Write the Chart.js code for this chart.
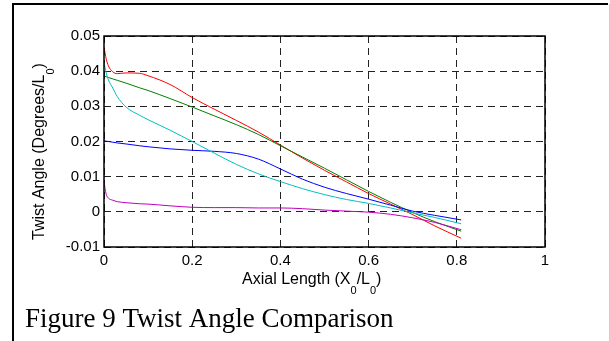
<!DOCTYPE html>
<html>
<head>
<meta charset="utf-8">
<script src="https://cdn.jsdelivr.net/npm/chart.js@4"></script>
<style>
  html, body { margin: 0; padding: 0; background: #fff; }
  #wrap { width: 610px; height: 341px; }
</style>
</head>
<body>
<div id="wrap"><canvas id="myChart" width="610" height="341"></canvas></div>
<script>
// axial positions (X0/L0)
const xs = [0, 0.005, 0.01, 0.02, 0.03, 0.05, 0.08, 0.1, 0.15, 0.2, 0.25, 0.3, 0.35, 0.4, 0.45, 0.5, 0.55, 0.6, 0.65, 0.7, 0.75, 0.81];

// twist angle curves (Degrees/L0)
const redCurve = [0.0468, 0.0435, 0.0415, 0.0398, 0.0393, 0.0395, 0.0394, 0.0387, 0.0362, 0.0325, 0.0292, 0.0260, 0.0227, 0.0190, 0.0153, 0.0118, 0.0085, 0.0052, 0.0022, -0.0008, -0.0040, -0.0075];
const greenCurve = [0.0387, 0.0384, 0.0382, 0.0378, 0.0374, 0.0366, 0.0353, 0.0345, 0.0322, 0.0298, 0.0273, 0.0248, 0.0220, 0.0188, 0.0156, 0.0124, 0.0091, 0.0058, 0.0027, -0.0002, -0.0028, -0.0055];
const cyanCurve = [0.0425, 0.0395, 0.0375, 0.0352, 0.0328, 0.0298, 0.0275, 0.0262, 0.0232, 0.0200, 0.0167, 0.0135, 0.0108, 0.0086, 0.0066, 0.0049, 0.0035, 0.0024, 0.0011, -0.0003, -0.0016, -0.0034];
const blueCurve = [0.0202, 0.0201, 0.0200, 0.0198, 0.0196, 0.0193, 0.0188, 0.0185, 0.0179, 0.0175, 0.0172, 0.0166, 0.0150, 0.0122, 0.0093, 0.0070, 0.0052, 0.0036, 0.0019, 0.0002, -0.0010, -0.0023];
const magentaCurve = [0.0085, 0.0050, 0.0039, 0.0033, 0.0029, 0.0026, 0.0023, 0.0022, 0.0017, 0.0013, 0.0012, 0.0012, 0.0011, 0.0011, 0.0009, 0.0005, 0.0002, -0.0001, -0.0007, -0.0017, -0.0030, -0.0051];

const xTicks = [0, 0.2, 0.4, 0.6, 0.8, 1];
const yTicks = [-0.01, 0, 0.01, 0.02, 0.03, 0.04, 0.05];

const toPoints = (vals) => xs.map((x, i) => ({ x: x, y: vals[i] }));

const line = (label, vals, color) => ({
  label: label,
  data: toPoints(vals),
  borderColor: color,
  borderWidth: 1,
  pointRadius: 0,
  fill: false,
  cubicInterpolationMode: 'monotone'
});

// text with subscripts, parts = [[text, isSub], ...]
function drawSubText(ctx, parts, x, y, size) {
  let cx = x;
  parts.forEach(([t, sub]) => {
    ctx.font = (sub ? 11 : size) + 'px "Liberation Sans", Arial, sans-serif';
    ctx.fillText(t, cx, sub ? y + 10 : y);
    cx += ctx.measureText(t).width;
  });
}

const figurePlugin = {
  id: 'figure',
  beforeDraw(chart) {
    const ctx = chart.ctx;
    ctx.save();
    ctx.fillStyle = '#fff';
    ctx.fillRect(0, 0, chart.width, chart.height);
    // outer frame (cut off at the bottom)
    ctx.strokeStyle = '#000';
    ctx.lineWidth = 2;
    ctx.beginPath();
    ctx.moveTo(13, 341);
    ctx.lineTo(13, 4);
    ctx.lineTo(608, 4);
    ctx.stroke();
    ctx.strokeStyle = '#cfcfcf';
    ctx.lineWidth = 1;
    ctx.beginPath();
    ctx.moveTo(609.5, 4);
    ctx.lineTo(609.5, 341);
    ctx.stroke();
    ctx.restore();
  },
  afterDraw(chart) {
    const ctx = chart.ctx;
    const a = chart.chartArea;
    ctx.save();
    ctx.strokeStyle = '#000';
    ctx.lineWidth = 1.5;
    ctx.setLineDash([]);
    ctx.strokeRect(a.left, a.top, a.right - a.left, a.bottom - a.top);

    ctx.fillStyle = '#000';
    ctx.textBaseline = 'alphabetic';
    ctx.textAlign = 'left';
    drawSubText(ctx, [['Axial Length (X', false], ['0', true], ['/L', false], ['0', true], [')', false]], 242, 284, 16);

    ctx.translate(43.5, 240);
    ctx.rotate(-Math.PI / 2);
    drawSubText(ctx, [['Twist Angle (Degrees/L', false], ['0', true], [')', false]], 0, 0, 16);
    ctx.setTransform(1, 0, 0, 1, 0, 0);

    ctx.font = '27px "Liberation Serif", "Times New Roman", serif';
    ctx.fillText('Figure 9 Twist Angle Comparison', 25, 327);
    ctx.restore();
  }
};

const tickFont = { family: '"Liberation Sans", Arial, sans-serif', size: 15 };

new Chart(document.getElementById('myChart'), {
  type: 'line',
  data: {
    datasets: [
      line('magenta', magentaCurve, '#c000c0'),
      line('cyan', cyanCurve, '#00c0c0'),
      line('blue', blueCurve, '#0000ff'),
      line('green', greenCurve, '#008000'),
      line('red', redCurve, '#ff0000')
    ]
  },
  options: {
    responsive: false,
    animation: false,
    events: [],
    layout: { padding: { left: 0, top: 36, right: 65, bottom: 0 } },
    plugins: { legend: { display: false }, tooltip: { enabled: false } },
    scales: {
      x: {
        type: 'linear',
        min: 0,
        max: 1,
        afterFit: (s) => { s.height = 94; },
        afterBuildTicks: (s) => { s.ticks = xTicks.map(v => ({ value: v })); },
        ticks: {
          color: '#000',
          font: tickFont,
          padding: 5,
          maxRotation: 0,
          callback: (v) => String(Math.round(v * 10) / 10)
        },
        grid: { color: '#222', lineWidth: 1, drawTicks: false },
        border: { display: false, dash: [7, 5] }
      },
      y: {
        type: 'linear',
        min: -0.01,
        max: 0.05,
        afterFit: (s) => { s.width = 104; },
        afterBuildTicks: (s) => { s.ticks = yTicks.map(v => ({ value: v })); },
        ticks: {
          color: '#000',
          font: tickFont,
          padding: 4,
          callback: (v) => String(Math.round(v * 100) / 100)
        },
        grid: { color: '#222', lineWidth: 1, drawTicks: false },
        border: { display: false, dash: [7, 5] }
      }
    }
  },
  plugins: [figurePlugin]
});
</script>
</body>
</html>
